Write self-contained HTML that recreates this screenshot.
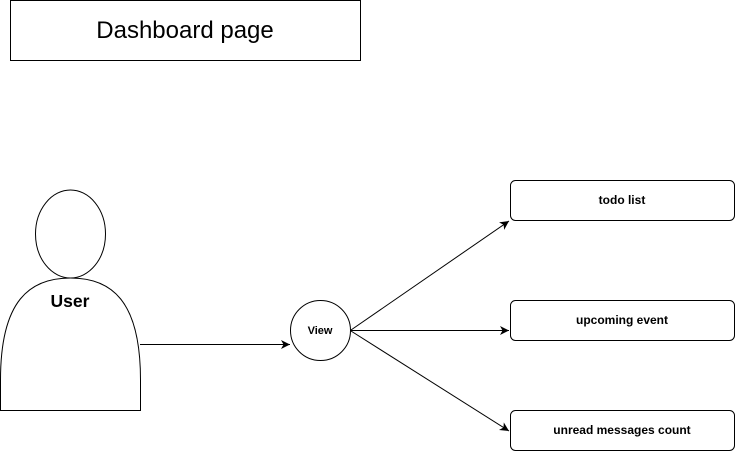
<!DOCTYPE html>
<html><head><meta charset="utf-8"><style>html,body{margin:0;padding:0;background:#fff;width:737px;height:451px;overflow:hidden}</style></head>
<body>
<svg width="737" height="451" viewBox="0 0 737 451" xmlns="http://www.w3.org/2000/svg" font-family="Liberation Sans, Arial, sans-serif">
<defs><marker id="a" markerWidth="12" markerHeight="12" refX="9" refY="6" orient="auto" markerUnits="userSpaceOnUse"><path d="M0,1.5 L9,6 L0,10.5 L2.5,6 Z" fill="#000"/></marker></defs>
<rect x="10.5" y="0.5" width="350" height="60" fill="#fff" stroke="#000"/>
<text x="185" y="38" font-size="24" text-anchor="middle">Dashboard page</text>
<ellipse cx="70.5" cy="234" rx="35" ry="44" fill="#fff" stroke="#000"/>
<path d="M0.5,410.5 L0.5,380 C0.5,300 30,278 70.5,278 C111,278 140.5,300 140.5,380 L140.5,410.5 Z" fill="#fff" stroke="#000"/>
<text x="70" y="307" font-size="17.5" font-weight="bold" text-anchor="middle">User</text>
<line x1="140" y1="344.5" x2="290" y2="344.5" stroke="#000" marker-end="url(#a)"/>
<circle cx="320.5" cy="330.5" r="30" fill="#fff" stroke="#000"/>
<text x="320" y="334" font-size="11" font-weight="bold" text-anchor="middle">View</text>
<line x1="351" y1="330" x2="509" y2="221" stroke="#000" marker-end="url(#a)"/>
<line x1="351" y1="330.5" x2="509" y2="330.5" stroke="#000" marker-end="url(#a)"/>
<line x1="351" y1="331" x2="509" y2="431" stroke="#000" marker-end="url(#a)"/>
<rect x="510.5" y="180.5" width="224" height="40" rx="5" fill="#fff" stroke="#000"/>
<text x="622" y="204" font-size="12" font-weight="bold" text-anchor="middle">todo list</text>
<rect x="510.5" y="300.5" width="224" height="40" rx="5" fill="#fff" stroke="#000"/>
<text x="622" y="324" font-size="12" font-weight="bold" text-anchor="middle">upcoming event</text>
<rect x="510.5" y="410.5" width="224" height="40" rx="5" fill="#fff" stroke="#000"/>
<text x="622" y="434" font-size="12" font-weight="bold" text-anchor="middle">unread messages count</text>
</svg>
</body></html>
